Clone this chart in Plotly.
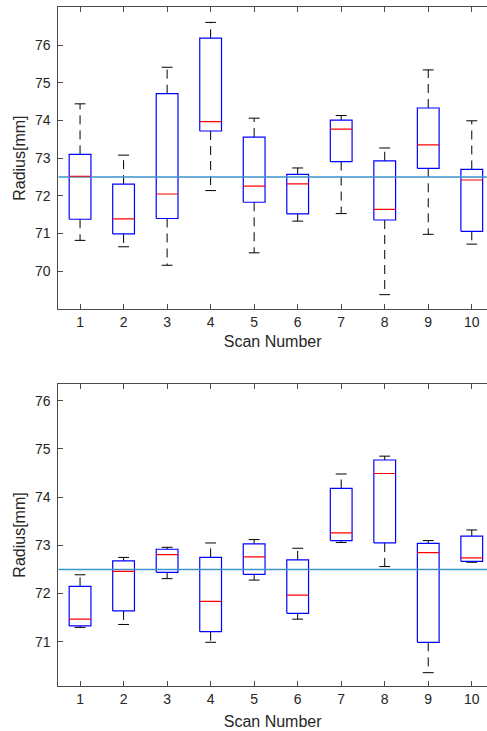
import plotly.graph_objects as go

scans = [1, 2, 3, 4, 5, 6, 7, 8, 9, 10]

# Top panel
top_low = [70.82, 70.65, 70.16, 72.14, 70.49, 71.33, 71.53, 69.38, 70.98, 70.72]
top_q1 = [71.38, 70.99, 71.40, 73.72, 71.83, 71.52, 72.91, 71.36, 72.73, 71.06]
top_med = [72.52, 71.39, 72.05, 73.97, 72.26, 72.32, 73.77, 71.64, 73.35, 72.42]
top_q3 = [73.10, 72.31, 74.71, 76.18, 73.56, 72.57, 74.01, 72.93, 74.33, 72.70]
top_high = [74.44, 73.08, 75.41, 76.60, 74.06, 72.74, 74.13, 73.27, 75.34, 73.99]

# Bottom panel
bot_low = [71.30, 71.36, 72.31, 70.99, 72.28, 71.47, 73.06, 72.56, 70.36, 72.65]
bot_q1 = [71.33, 71.64, 72.44, 71.21, 72.40, 71.59, 73.10, 73.05, 70.99, 72.67]
bot_med = [71.47, 72.46, 72.81, 71.84, 72.76, 71.97, 73.26, 74.49, 72.85, 72.74]
bot_q3 = [72.15, 72.68, 72.92, 72.75, 73.03, 72.70, 74.18, 74.77, 73.04, 73.19]
bot_high = [72.39, 72.75, 72.96, 73.05, 73.12, 72.94, 74.48, 74.85, 73.10, 73.32]

reference_value = 72.5

top_yticks = [70, 71, 72, 73, 74, 75, 76]
bot_yticks = [71, 72, 73, 74, 75, 76]
top_yrange = [69, 77]
bot_yrange = [70.09, 76.34]
x_range = [0.5, 10.35]

BOX_HALF = 0.25
CAP_HALF = 0.125

W, H = 487, 731
FONT = "Liberation Sans, Arial, sans-serif"
AXCOL = "#4a4a4a"
TXTCOL = "#262626"
REFCOL = "#3d93cc"


def add_boxes(fig, xa, ya, low, q1, med, q3, high):
    bx, by, mx, my, wx, wy, cx, cy = [], [], [], [], [], [], [], []
    for i, s in enumerate(scans):
        l, r = s - BOX_HALF, s + BOX_HALF
        bx += [l, r, r, l, l, None]
        by += [q1[i], q1[i], q3[i], q3[i], q1[i], None]
        mx += [l, r, None]
        my += [med[i], med[i], None]
        wx += [s, s, None, s, s, None]
        wy += [q3[i], high[i], None, q1[i], low[i], None]
        cx += [s - CAP_HALF, s + CAP_HALF, None, s - CAP_HALF, s + CAP_HALF, None]
        cy += [high[i], high[i], None, low[i], low[i], None]
    common = dict(xaxis=xa, yaxis=ya, mode="lines", showlegend=False, hoverinfo="skip")
    fig.add_trace(go.Scatter(x=wx, y=wy, line=dict(color="black", width=1, dash="9px,6px"), **common))
    fig.add_trace(go.Scatter(x=cx, y=cy, line=dict(color="black", width=1), **common))
    fig.add_trace(go.Scatter(x=bx, y=by, line=dict(color="#0000ff", width=1.2), **common))
    fig.add_trace(go.Scatter(x=x_range, y=[reference_value, reference_value],
                             line=dict(color=REFCOL, width=1.4), **common))
    fig.add_trace(go.Scatter(x=mx, y=my, line=dict(color="#ff0000", width=1.2), **common))


fig = go.Figure()
add_boxes(fig, "x", "y", top_low, top_q1, top_med, top_q3, top_high)
add_boxes(fig, "x2", "y2", bot_low, bot_q1, bot_med, bot_q3, bot_high)

xdom = [58.3 / W, 1.0]
top_dom = [1 - 309 / H, 1 - 7.3 / H]
bot_dom = [1 - 685.7 / H, 1 - 384.3 / H]


def xaxis_cfg(standoff):
    return dict(
        range=x_range, domain=xdom, tickvals=scans, ticktext=[str(s) for s in scans],
        showline=True, linecolor=AXCOL, linewidth=1, mirror="ticks",
        ticks="inside", ticklen=5, tickcolor=AXCOL, tickwidth=1,
        showgrid=False, zeroline=False,
        tickfont=dict(family=FONT, size=14, color=TXTCOL),
        title=dict(text="Scan Number", font=dict(family=FONT, size=16, color=TXTCOL), standoff=standoff),
    )


yaxis_common = dict(
    showline=True, linecolor=AXCOL, linewidth=1, mirror=False,
    ticks="inside", ticklen=5, tickcolor=AXCOL, tickwidth=1,
    showgrid=False, zeroline=False,
    tickfont=dict(family=FONT, size=14, color=TXTCOL),
    ticklabelstandoff=4,
    title=dict(text="Radius[mm]", font=dict(family=FONT, size=16, color=TXTCOL), standoff=5),
)

fig.update_layout(
    width=W, height=H,
    margin=dict(l=0, r=0, t=0, b=0),
    paper_bgcolor="white", plot_bgcolor="white",
    xaxis=dict(anchor="y", **xaxis_cfg(7)),
    yaxis=dict(anchor="x", domain=top_dom, range=top_yrange, tickvals=top_yticks, **yaxis_common),
    xaxis2=dict(anchor="y2", **xaxis_cfg(10)),
    yaxis2=dict(anchor="x2", domain=bot_dom, range=bot_yrange, tickvals=bot_yticks, **yaxis_common),
)

fig.write_html("out.html")
